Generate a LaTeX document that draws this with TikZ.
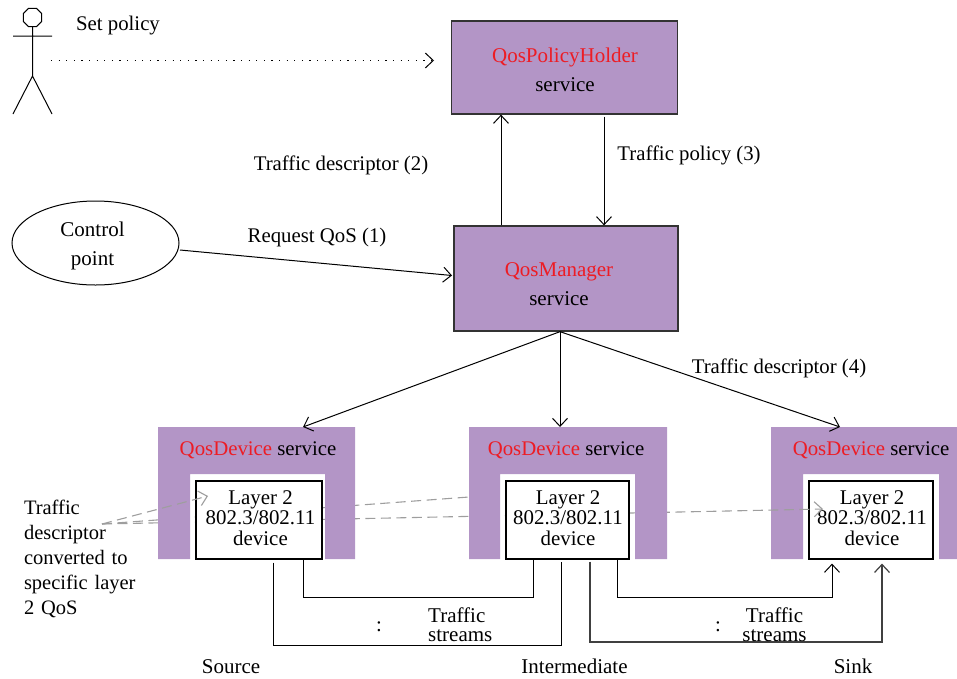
\documentclass[tikz,border=0pt]{standalone}
\usepackage{fontspec}
\setmainfont{Liberation Serif}
\usetikzlibrary{arrows.meta,shapes.geometric,calc}
\definecolor{qospurple}{HTML}{B395C6}
\definecolor{qosred}{HTML}{ED1C24}
\definecolor{qosdash}{HTML}{9E9E9E}
\newcommand{\qr}[1]{\textcolor{qosred}{#1}}
\tikzset{
  txt/.style={font=\fontsize{20.8}{25}\selectfont,inner sep=0pt,align=center},
  twolines/.style={font=\fontsize{21}{29}\selectfont,inner sep=0pt,align=center},
  layertxt/.style={font=\fontsize{20.9}{20.5}\selectfont,inner sep=0pt,align=center},
  streamtxt/.style={font=\fontsize{21}{19}\selectfont,inner sep=0pt},
  rowtxt/.style={font=\fontsize{21}{21}\selectfont,inner sep=0pt},
  service/.style={draw=black!80,fill=qospurple,line width=1.3pt,inner sep=0pt},
  layer/.style={draw=black,fill=white,line width=1.2pt,inner sep=0pt,minimum height=78pt},
  conn/.style={line width=1pt,-{Straight Barb[length=8pt,width=15pt]}},
  stream/.style={line width=1pt},
  graydash/.style={draw=qosdash,line width=1.1pt,dash pattern=on 10pt off 5.5pt},
}
\begin{document}
\begin{tikzpicture}[x=1pt,y=-1pt]
\useasboundingbox (0,0) rectangle (957,678);

% actor
\node[draw,regular polygon,regular polygon sides=8,minimum size=20pt,inner sep=0pt,line width=1pt] (head) at (32.5,17.5) {};
\coordinate (hip) at (32.5,76);
\draw[line width=1pt] (head.south) -- (hip) -- (13,114) (hip) -- (52,114) (13,36) -- (52,36);
\node[txt] (setpolicy) at (118,25.5) {Set policy};

% services
\node[service,minimum width=226pt,minimum height=93pt] (holder) at (564.5,67.5) {};
\node[twolines] (holdertxt) at (565,70) {\qr{QosPolicyHolder}\\service};
\node[service,minimum width=224pt,minimum height=105pt] (manager) at (566,278.5) {};
\node[twolines] (managertxt) at (559,284.5) {\qr{QosManager}\\service};
\node[draw,ellipse,minimum width=167pt,minimum height=84pt,inner sep=0pt,line width=1pt] (control) at (95.5,243) {};
\node[twolines] (controltxt) at (92.5,246) {Control\\point};

\coordinate (polstart) at (51,60.5);
\coordinate (polend) at (434,60.5);
\coordinate (up) at (501,0);
\coordinate (down) at (604,0);
\coordinate (reqstart) at (180,250);
\coordinate (reqend) at (452,275.5);
\draw[conn,dash pattern=on 1.1pt off 6.5pt] (polstart) -- (polend);
\draw[conn] (manager.north -| up) -- (holder.south -| up);
\draw[conn] ($(holder.south -| down)+(0,2)$) -- (manager.north -| down);
\draw[conn] (reqstart) -- (reqend);
\node[txt] (lab2) at (341,165.5) {Traffic descriptor (2)};
\node[txt] (lab3) at (689,155.5) {Traffic policy (3)};
\node[txt] (lab1) at (317,237.5) {Request QoS (1)};
\node[txt] (lab4) at (779,368.5) {Traffic descriptor (4)};

% sink first, the grey lines pass over it
\fill[qospurple] (771,427) -- (957,427) -- (957,559) -- (939,559) -- (939,474) -- (803,474) -- (803,559) -- (771,559) -- cycle;
\node[layer,minimum width=124pt] (dev3) at (871,520) {};
\node[layertxt] (dev3txt) at (872,518) {Layer 2\\802.3/802.11\\device};
\node[txt] (qos3) at (871,450.5) {\qr{QosDevice} service};

% grey lines behind source and intermediate
\coordinate (convstart) at (102,524);
\coordinate (endb) at (469,497);
\coordinate (endc) at (823,509);
\draw[graydash] (convstart) -- (endb);
\draw[graydash,-{Straight Barb[length=8pt,width=15pt]}] (convstart) -- (endc);

\foreach \a/\b/\c/\d in {158/190/325/355,469/500/635/667} {
  \fill[qospurple] (\a,427) -- (\d,427) -- (\d,559) -- (\c,559) -- (\c,474) -- (\b,474) -- (\b,559) -- (\a,559) -- cycle;
}
\node[layer,minimum width=126pt] (dev1) at (259,520) {};
\node[layer,minimum width=123pt] (dev2) at (567.5,520) {};
\node[layertxt] (dev1txt) at (260.5,518) {Layer 2\\802.3/802.11\\device};
\node[layertxt] (dev2txt) at (568,518) {Layer 2\\802.3/802.11\\device};
\node[txt] (qos1) at (258,450.5) {\qr{QosDevice} service};
\node[txt] (qos2) at (566,450.5) {\qr{QosDevice} service};

\coordinate (enda) at (208,496);
\draw[graydash,-{Straight Barb[length=8pt,width=15pt]}] (convstart) -- (enda);

\coordinate (t1) at (303,427);
\coordinate (t2) at (560,427);
\coordinate (t3) at (840,427);
\draw[conn] (manager.south -| t2) -- (t1);
\draw[conn] (manager.south -| t2) -- (t2);
\draw[conn] (manager.south -| t2) -- (t3);

% traffic streams
\coordinate (c1) at (533,597);
\coordinate (c2) at (303,597);
\coordinate (c3) at (273,645);
\coordinate (c4) at (561,645);
\coordinate (c5) at (617,597);
\coordinate (c6) at (832,597);
\coordinate (c7) at (590,642);
\coordinate (c8) at (882,642);
\draw[stream] (dev1.south -| c2) -- (c2) -- (c1) -- (dev2.south -| c1);
\draw[stream] ($(dev1.south -| c3)+(0,3)$) -- (c3) -- (c4) -- ($(dev2.south -| c4)+(0,2)$);
\draw[conn] (dev2.south -| c5) -- (c5) -- (c6) -- ($(dev3.south -| c6)+(0,4)$);
\draw[conn,draw=black!75,line width=1.2pt] ($(dev2.south -| c7)+(0,2)$) -- (c7) -- (c8) -- ($(dev3.south -| c8)+(0,4)$);

\node[txt,font=\fontsize{20.5}{25}\selectfont,text width=125pt,align=left] (conv) at (86.5,559) {Traffic\\descriptor\\converted to\\specific layer\\2 QoS};
\node[streamtxt,anchor=west,align=left] (streams1) at (428,625) {Traffic\\streams};
\node[streamtxt,align=center] (streams2) at (774.5,625) {Traffic\\streams};
\node[txt] (dots1) at (379,627) {:};
\node[txt] (dots2) at (718,627) {:};
\node[rowtxt,anchor=base] (source) at (231,673.5) {Source};
\node[rowtxt,anchor=base] (inter) at (574.5,673.5) {Intermediate};
\node[rowtxt,anchor=base] (sink) at (853,673.5) {Sink};
\end{tikzpicture}
\end{document}
